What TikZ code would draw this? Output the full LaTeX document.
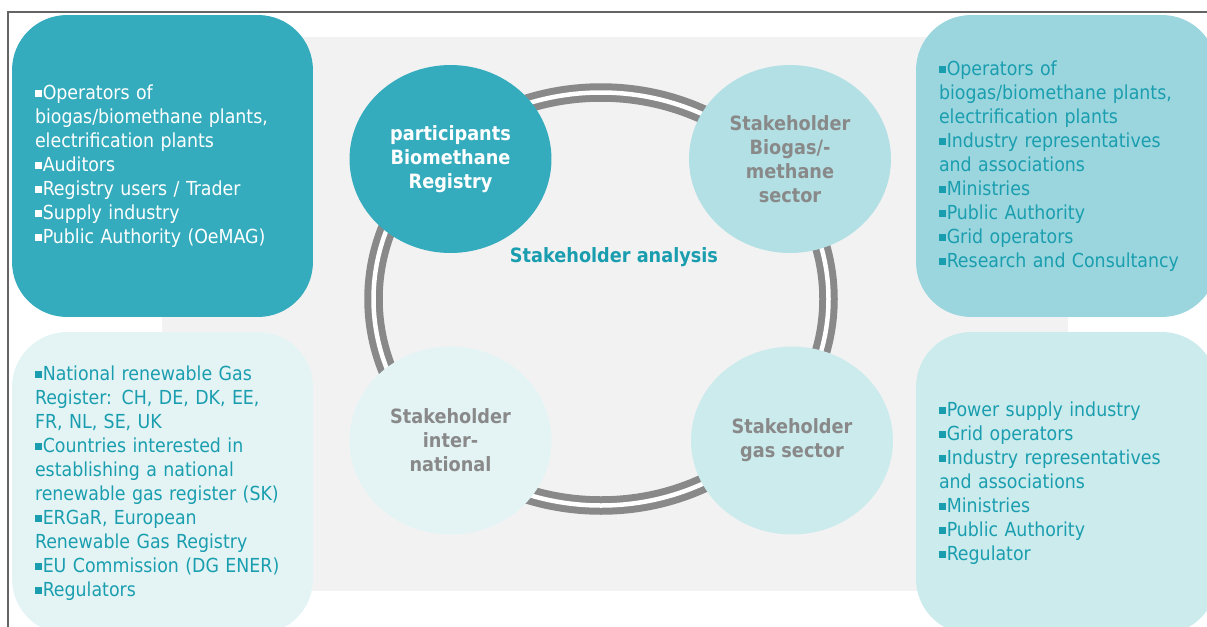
\documentclass[tikz,border=0pt]{standalone}
\usepackage{fontspec}
\setmainfont{DejaVu Sans Condensed}
\usetikzlibrary{shapes.geometric}
\newcommand{\itemsq}{\raisebox{0.14em}{\rule{0.34em}{0.34em}}\kern0.06em}
\tikzset{listbox/.style = {rounded corners=1.1cm, minimum width=6.02cm, minimum height=6.04cm,
                           inner sep=0, text width=5.1cm, align=left,
                           font=\fontsize{11}{13.66}\selectfont}}
\tikzset{role/.style = {ellipse, minimum width=4.04cm, minimum height=3.76cm, inner sep=0,
                        align=center, font=\bfseries\fontsize{11.2}{13.66}\selectfont}}
\tikzset{ring/.style = {draw=mgrey, line width=0.14cm, double=white, double distance=0.09cm}}
\definecolor{mteal}{RGB}{53, 172, 189}
\definecolor{mtext}{RGB}{26, 158, 175}
\definecolor{mpale}{RGB}{228, 244, 245}
\definecolor{mlight}{RGB}{204, 235, 237}
\definecolor{mmid}{RGB}{178, 224, 229}
\definecolor{mbox}{RGB}{155, 214, 222}
\definecolor{mgrey}{RGB}{137, 137, 137}
\definecolor{mback}{RGB}{242, 242, 242}
\definecolor{mframe}{RGB}{100, 100, 100}

\begin{document}
\begin{tikzpicture}[x=0.02cm, y=-0.02cm]
      \useasboundingbox (0, 0) rectangle (1207, 626);
      \clip (0, 0) rectangle (1207, 626);
      \draw [mframe, line width=0.04cm] (8, 640) -- (8, 12) -- (1220, 12);
      \fill [mback] (162, 37) rectangle (1068, 591);
      \draw [ring] (601, 299) ellipse [x radius=227.5, y radius=206.5];

      \node at (162.5, 166) [listbox, fill=mteal, text=white] (registrylist)
        {\itemsq Operators of\\biogas/biomethane plants,\\electrification plants\\\itemsq Auditors\\%
         \itemsq Registry users / Trader\\\itemsq Supply industry\\\itemsq Public Authority (OeMAG)};
      \node at (1066.5, 166) [listbox, fill=mbox, text=mtext] (biogaslist)
        {\itemsq Operators of\\biogas/biomethane plants,\\electrification plants\\%
         \itemsq Industry representatives\\and associations\\\itemsq Ministries\\\itemsq Public Authority\\%
         \itemsq Grid operators\\\itemsq Research and Consultancy};
      \node at (162.5, 483) [listbox, fill=mpale, text=mtext] (intllist)
        {\itemsq National renewable Gas\\Register: CH, DE, DK, EE,\\FR, NL, SE, UK\\%
         \itemsq Countries interested in\\establishing a national\\renewable gas register (SK)\\%
         \itemsq ERGaR, European\\Renewable Gas Registry\\\itemsq EU Commission (DG ENER)\\\itemsq Regulators};
      \node at (1066.5, 483) [listbox, fill=mlight, text=mtext] (gaslist)
        {\itemsq Power supply industry\\\itemsq Grid operators\\\itemsq Industry representatives\\%
         and associations\\\itemsq Ministries\\\itemsq Public Authority\\\itemsq Regulator};

      \node at (450.5, 159) [role, fill=mteal, text=white] (participants)
        {participants\\Biomethane\\Registry};
      \node at (790, 159) [role, fill=mmid, text=mgrey] (biogas)
        {Stakeholder\\Biogas/-\\methane\\sector};
      \node at (450.5, 440.5) [role, fill=mpale, text=mgrey] (international)
        {Stakeholder\\inter-\\national};
      \node at (792, 440.5) [role, fill=mlight, text=mgrey] (gassector)
        {Stakeholder\\gas sector};

      \node at (614, 257) [mtext, font=\bfseries\fontsize{11.2}{13.66}\selectfont] (analysis)
        {Stakeholder analysis};
\end{tikzpicture}
\end{document}
